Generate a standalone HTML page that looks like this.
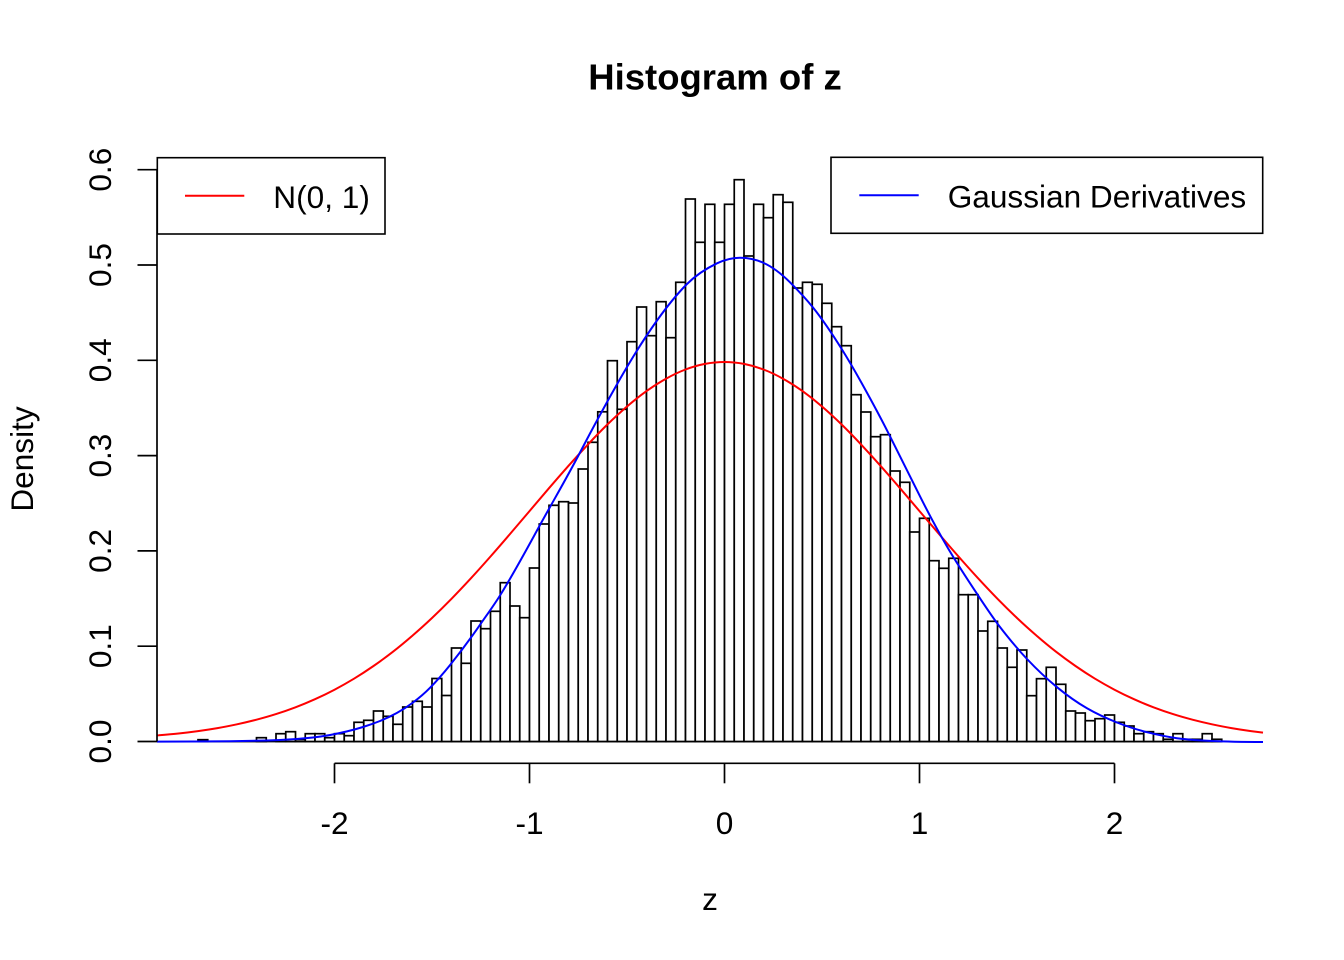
<!DOCTYPE html>
<html>
<head>
<meta charset="utf-8">
<style>
html,body{margin:0;padding:0;background:#fff;}
svg{display:block;}
text{font-family:"Liberation Sans",Arial,Helvetica,sans-serif;fill:#000;}
</style>
</head>
<body>
<svg width="1344" height="960" viewBox="0 0 1344 960" xmlns="http://www.w3.org/2000/svg">
<rect x="0" y="0" width="1344" height="960" fill="#fff"/>

<text x="715" y="89.5" text-anchor="middle" font-size="36.5" font-weight="bold">Histogram of z</text>

<g fill="#fff" stroke="#000" stroke-width="1.7">
<line x1="198" y1="741.5" x2="1221.75" y2="741.5"/>
<rect x="198" y="739.7" width="9.75" height="1.8"/>
<rect x="256.5" y="737.7" width="9.75" height="3.8"/>
<rect x="276" y="733.7" width="9.75" height="7.8"/>
<rect x="285.75" y="731.7" width="9.75" height="9.8"/>
<rect x="295.5" y="739.5" width="9.75" height="2"/>
<rect x="305.25" y="733.7" width="9.75" height="7.8"/>
<rect x="315" y="733.7" width="9.75" height="7.8"/>
<rect x="324.75" y="737.7" width="9.75" height="3.8"/>
<rect x="334.5" y="733.7" width="9.75" height="7.8"/>
<rect x="344.25" y="735.7" width="9.75" height="5.8"/>
<rect x="354" y="722.3" width="9.75" height="19.2"/>
<rect x="363.75" y="720.3" width="9.75" height="21.2"/>
<rect x="373.5" y="711" width="9.75" height="30.5"/>
<rect x="383.25" y="716.3" width="9.75" height="25.2"/>
<rect x="393" y="724.3" width="9.75" height="17.2"/>
<rect x="402.75" y="707" width="9.75" height="34.5"/>
<rect x="412.5" y="701.3" width="9.75" height="40.2"/>
<rect x="422.25" y="707" width="9.75" height="34.5"/>
<rect x="432" y="678.5" width="9.75" height="63"/>
<rect x="441.75" y="695.5" width="9.75" height="46"/>
<rect x="451.5" y="648" width="9.75" height="93.5"/>
<rect x="461.25" y="663.3" width="9.75" height="78.2"/>
<rect x="471" y="621" width="9.75" height="120.5"/>
<rect x="480.75" y="628.7" width="9.75" height="112.8"/>
<rect x="490.5" y="611.3" width="9.75" height="130.2"/>
<rect x="500.25" y="582.7" width="9.75" height="158.8"/>
<rect x="510" y="606" width="9.75" height="135.5"/>
<rect x="519.75" y="617.7" width="9.75" height="123.8"/>
<rect x="529.5" y="568" width="9.75" height="173.5"/>
<rect x="539.25" y="524" width="9.75" height="217.5"/>
<rect x="549" y="505.3" width="9.75" height="236.2"/>
<rect x="558.75" y="501.7" width="9.75" height="239.8"/>
<rect x="568.5" y="503" width="9.75" height="238.5"/>
<rect x="578.25" y="469" width="9.75" height="272.5"/>
<rect x="588" y="442.3" width="9.75" height="299.2"/>
<rect x="597.75" y="411.8" width="9.75" height="329.7"/>
<rect x="607.5" y="360.7" width="9.75" height="380.8"/>
<rect x="617.25" y="409.3" width="9.75" height="332.2"/>
<rect x="627" y="341.7" width="9.75" height="399.8"/>
<rect x="636.75" y="307" width="9.75" height="434.5"/>
<rect x="646.5" y="335.7" width="9.75" height="405.8"/>
<rect x="656.25" y="301.7" width="9.75" height="439.8"/>
<rect x="666" y="337.7" width="9.75" height="403.8"/>
<rect x="675.75" y="282.3" width="9.75" height="459.2"/>
<rect x="685.5" y="199" width="9.75" height="542.5"/>
<rect x="695.25" y="242.3" width="9.75" height="499.2"/>
<rect x="705" y="204.3" width="9.75" height="537.2"/>
<rect x="714.75" y="242.3" width="9.75" height="499.2"/>
<rect x="724.5" y="204.3" width="9.75" height="537.2"/>
<rect x="734.25" y="179.7" width="9.75" height="561.8"/>
<rect x="744" y="256" width="9.75" height="485.5"/>
<rect x="753.75" y="204.3" width="9.75" height="537.2"/>
<rect x="763.5" y="217.7" width="9.75" height="523.8"/>
<rect x="773.25" y="194.7" width="9.75" height="546.8"/>
<rect x="783" y="202.3" width="9.75" height="539.2"/>
<rect x="792.75" y="288" width="9.75" height="453.5"/>
<rect x="802.5" y="282.3" width="9.75" height="459.2"/>
<rect x="812.25" y="284.3" width="9.75" height="457.2"/>
<rect x="822" y="303.3" width="9.75" height="438.2"/>
<rect x="831.75" y="326.7" width="9.75" height="414.8"/>
<rect x="841.5" y="345.7" width="9.75" height="395.8"/>
<rect x="851.25" y="394.7" width="9.75" height="346.8"/>
<rect x="861" y="412" width="9.75" height="329.5"/>
<rect x="870.75" y="436.7" width="9.75" height="304.8"/>
<rect x="880.5" y="434.7" width="9.75" height="306.8"/>
<rect x="890.25" y="471" width="9.75" height="270.5"/>
<rect x="900" y="482.3" width="9.75" height="259.2"/>
<rect x="909.75" y="532" width="9.75" height="209.5"/>
<rect x="919.5" y="518.3" width="9.75" height="223.2"/>
<rect x="929.25" y="560.7" width="9.75" height="180.8"/>
<rect x="939" y="568.3" width="9.75" height="173.2"/>
<rect x="948.75" y="558.3" width="9.75" height="183.2"/>
<rect x="958.5" y="594.7" width="9.75" height="146.8"/>
<rect x="968.25" y="594.7" width="9.75" height="146.8"/>
<rect x="978" y="631" width="9.75" height="110.5"/>
<rect x="987.75" y="621.3" width="9.75" height="120.2"/>
<rect x="997.5" y="648" width="9.75" height="93.5"/>
<rect x="1007.25" y="667.3" width="9.75" height="74.2"/>
<rect x="1017" y="650" width="9.75" height="91.5"/>
<rect x="1026.75" y="695.7" width="9.75" height="45.8"/>
<rect x="1036.5" y="678.7" width="9.75" height="62.8"/>
<rect x="1046.25" y="667.3" width="9.75" height="74.2"/>
<rect x="1056" y="684.3" width="9.75" height="57.2"/>
<rect x="1065.75" y="711" width="9.75" height="30.5"/>
<rect x="1075.5" y="713" width="9.75" height="28.5"/>
<rect x="1085.25" y="720.7" width="9.75" height="20.8"/>
<rect x="1095" y="718.7" width="9.75" height="22.8"/>
<rect x="1104.75" y="715" width="9.75" height="26.5"/>
<rect x="1114.5" y="722.3" width="9.75" height="19.2"/>
<rect x="1124.25" y="726" width="9.75" height="15.5"/>
<rect x="1134" y="733.7" width="9.75" height="7.8"/>
<rect x="1143.75" y="731.7" width="9.75" height="9.8"/>
<rect x="1153.5" y="733.7" width="9.75" height="7.8"/>
<rect x="1163.25" y="739.3" width="9.75" height="2.2"/>
<rect x="1173" y="733.7" width="9.75" height="7.8"/>
<rect x="1182.75" y="739.3" width="9.75" height="2.2"/>
<rect x="1192.5" y="739.3" width="9.75" height="2.2"/>
<rect x="1202.25" y="733.7" width="9.75" height="7.8"/>
<rect x="1212" y="739.3" width="9.75" height="2.2"/>
</g>

<path fill="none" stroke="#ff0000" stroke-width="2" stroke-linejoin="round" d="M157,735.4 L159,735.3
C165.5,734.75 172,734.2 178.5,733.5
C185,732.8 191.5,731.99 198,731.1
C204.5,730.21 211,729.22 217.5,728.1
C224,726.98 230.5,725.68 237,724.3
C243.5,722.92 250,721.4 256.5,719.7
C263,718.0 269.5,716.17 276,714.1
C282.5,712.03 289,709.77 295.5,707.3
C302,704.83 308.5,702.13 315,699.2
C321.5,696.27 328,693.12 334.5,689.7
C341,686.28 347.5,682.65 354,678.7
C360.5,674.75 367,670.5 373.5,666
C380,661.5 386.5,656.76 393,651.7
C399.5,646.64 406,641.22 412.5,635.6
C419,629.98 425.5,624.16 432,618
C438.5,611.84 445,605.44 451.5,598.8
C458,592.16 464.5,585.25 471,578.2
C477.5,571.15 484,563.88 490.5,556.5
C497,549.12 503.5,541.59 510,534
C516.5,526.41 523,518.76 529.5,511.1
C536,503.44 542.5,495.79 549,488.2
C555.5,480.61 562,473.14 568.5,465.8
C575,458.46 581.5,451.32 588,444.4
C594.5,437.48 601,430.73 607.5,424.4
C614,418.07 620.5,412.08 627,406.5
C633.5,400.92 640,395.77 646.5,391.1
C653,386.43 659.5,382.32 666,378.7
C672.5,375.08 679,371.98 685.5,369.5
C692,367.02 698.5,365.15 705,363.9
C711.5,362.65 718,362 724.5,362
C731,362 737.5,362.65 744,363.9
C750.5,365.15 757,367.02 763.5,369.5
C770,371.98 776.5,375.08 783,378.7
C789.5,382.32 796,386.43 802.5,391.1
C809,395.77 815.5,400.92 822,406.5
C828.5,412.08 835,418.07 841.5,424.4
C848,430.73 854.5,437.48 861,444.4
C867.5,451.32 874,458.46 880.5,465.8
C887,473.14 893.5,480.61 900,488.2
C906.5,495.79 913,503.44 919.5,511.1
C926,518.76 932.5,526.41 939,534
C945.5,541.59 952,549.12 958.5,556.5
C965,563.88 971.5,571.15 978,578.2
C984.5,585.25 991,592.16 997.5,598.8
C1004,605.44 1010.5,611.84 1017,618
C1023.5,624.16 1030,629.98 1036.5,635.6
C1043,641.22 1049.5,646.64 1056,651.7
C1062.5,656.76 1069,661.5 1075.5,666
C1082,670.5 1088.5,674.75 1095,678.7
C1101.5,682.65 1108,686.28 1114.5,689.7
C1121,693.12 1127.5,696.27 1134,699.2
C1140.5,702.13 1147,704.83 1153.5,707.3
C1160,709.77 1166.5,712.03 1173,714.1
C1179.5,716.17 1186,718.0 1192.5,719.7
C1199,721.4 1205.5,722.92 1212,724.3
C1218.5,725.68 1225,726.98 1231.5,728.1
C1238,729.22 1244.5,730.21 1251,731.1
L1263,732.6"/>

<path fill="none" stroke="#0000ff" stroke-width="2" stroke-linejoin="round" d="M157,741.6
C181.3,741.6 205.7,741.44 230,741.2
C246.7,741.03 263.3,740.62 280,739.95
C291,739.51 302,738.71 313,737.5
C318.67,736.88 324.33,736.02 330,735
C335.67,733.98 341.33,732.76 347,731.4
C352.33,730.12 357.67,728.65 363,727
C368.67,725.24 374.33,723.27 380,721
C385.67,718.73 391.33,716.02 397,712.9
C402.33,709.97 407.67,706.5 413,702.5
C418.67,698.25 424.33,693.58 430,687.8
C436.67,681.0 443.33,673.43 450,665.1
C460,652.6 470,639.3 480,624.8
C486.67,615.13 493.33,606.17 500,595.5
C513.33,574.17 526.67,549.27 540,525
C553.33,500.73 566.67,478.1 580,452.5
C593.33,426.9 606.67,402.33 620,379
C632.33,357.42 644.67,337.77 657,320.5
C667,306.5 677,294 687,284
C697,274 707,268.1 717,263.3
C724.67,259.62 732.33,257.7 740,257.7
C747.67,257.7 755.33,259.15 763,262.6
C772,266.65 781,273.3 790,282.3
C797.67,289.97 805.33,297.92 813,307.5
C822.67,319.58 832.33,334.03 842,349.5
C849,360.7 856,372.9 863,385.5
C872,401.7 881,418.3 890,436.3
C900,456.3 910,476.3 920,496.3
C929,514.3 938,531.02 947,546.5
C957.67,564.85 968.33,580.8 979,596.8
C986,607.3 993,617.9 1000,627
C1009,638.7 1018,649.46 1027,659
C1037,669.6 1047,679 1057,687.2
C1067,695.4 1077,702.5 1087,708.3
C1097,714.1 1107,718.6 1117,722.5
C1127,726.4 1137,729.7 1147,732.2
C1157,734.7 1167,736.8 1177,738.2
C1188,739.74 1199,740.35 1210,740.9
C1227.67,741.78 1245.33,742 1263,742"/>

<g stroke="#000" stroke-width="1.7" fill="none">
<line x1="157" y1="741.5" x2="157" y2="169.7"/>
<line x1="137.5" y1="741.5" x2="157" y2="741.5"/>
<line x1="137.5" y1="646.2" x2="157" y2="646.2"/>
<line x1="137.5" y1="550.9" x2="157" y2="550.9"/>
<line x1="137.5" y1="455.6" x2="157" y2="455.6"/>
<line x1="137.5" y1="360.3" x2="157" y2="360.3"/>
<line x1="137.5" y1="265" x2="157" y2="265"/>
<line x1="137.5" y1="169.7" x2="157" y2="169.7"/>
</g>
<g font-size="31.6" text-anchor="middle">
<text transform="translate(111,741.5) rotate(-90)">0.0</text>
<text transform="translate(111,646.2) rotate(-90)">0.1</text>
<text transform="translate(111,550.9) rotate(-90)">0.2</text>
<text transform="translate(111,455.6) rotate(-90)">0.3</text>
<text transform="translate(111,360.3) rotate(-90)">0.4</text>
<text transform="translate(111,265) rotate(-90)">0.5</text>
<text transform="translate(111,169.7) rotate(-90)">0.6</text>
<text transform="translate(33,459) rotate(-90)">Density</text>
</g>

<g stroke="#000" stroke-width="1.7" fill="none">
<line x1="334.5" y1="763.3" x2="1114.5" y2="763.3"/>
<line x1="334.5" y1="763.3" x2="334.5" y2="783.3"/>
<line x1="529.5" y1="763.3" x2="529.5" y2="783.3"/>
<line x1="724.5" y1="763.3" x2="724.5" y2="783.3"/>
<line x1="919.5" y1="763.3" x2="919.5" y2="783.3"/>
<line x1="1114.5" y1="763.3" x2="1114.5" y2="783.3"/>
</g>
<g font-size="31.6" text-anchor="middle">
<text x="334.5" y="834">-2</text>
<text x="529.5" y="834">-1</text>
<text x="724.5" y="834">0</text>
<text x="919.5" y="834">1</text>
<text x="1114.5" y="834">2</text>
<text x="710" y="910">z</text>
</g>

<rect x="157.3" y="157.7" width="227.7" height="76.3" fill="#fff" stroke="#000" stroke-width="1.6"/>
<line x1="185" y1="195.7" x2="244.3" y2="195.7" stroke="#ff0000" stroke-width="2"/>
<text x="273.3" y="208" font-size="31.6">N(0, 1)</text>

<rect x="831" y="157.3" width="431.7" height="76" fill="#fff" stroke="#000" stroke-width="1.6"/>
<line x1="859.3" y1="195.3" x2="918.7" y2="195.3" stroke="#0000ff" stroke-width="2"/>
<text x="947.7" y="207.3" font-size="31.6">Gaussian Derivatives</text>
</svg>
</body>
</html>
